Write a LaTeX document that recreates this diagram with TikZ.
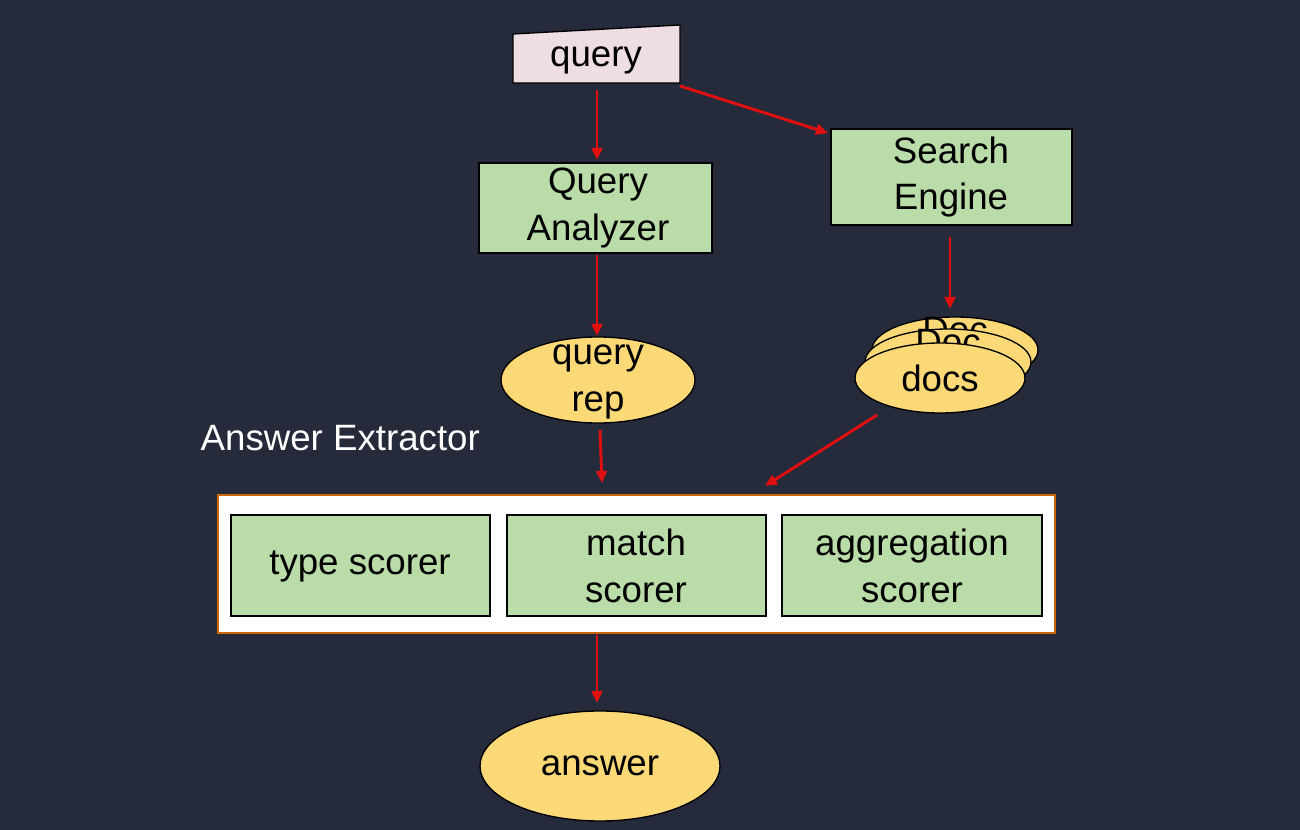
\documentclass[tikz,border=0pt]{standalone}
\usepackage{fontspec}
\setmainfont{Liberation Sans}
\usetikzlibrary{arrows.meta}
\definecolor{bg}{HTML}{252B3B}
\definecolor{gr}{HTML}{B9DCA8}
\definecolor{yl}{HTML}{FCD977}
\definecolor{pk}{HTML}{EEDDE3}
\definecolor{ar}{HTML}{E01010}
\begin{document}
\begin{tikzpicture}[x=0.75pt,y=-0.75pt,
  txt/.style={font=\fontsize{27.5}{35}\selectfont,align=center,text=black},
  box/.style={draw=black,line width=1pt,fill=gr},
  ell/.style={draw=black,line width=1pt,fill=yl},
  arr/.style={draw=ar,line width=2.2pt,-{Triangle[length=9pt,width=8pt]}}]
\fill[bg] (0,0) rectangle (1300,830);
\useasboundingbox (0,0) rectangle (1300,830);
% query
\draw[fill=pk,line width=1pt] (513,34) -- (680,25) -- (680,83) -- (513,83) -- cycle;
\node[txt] (q) at (596,60) {query};
\coordinate (qb) at (597,90);
\coordinate (qr) at (680,86);
% boxes
\draw[box] (479,163) rectangle (712,253);
\node[txt] (qa) at (598,208) {Query\\Analyzer};
\draw[box] (831,129) rectangle (1072,225);
\node[txt] (se) at (951,177) {Search\\Engine};
% query rep
\draw[ell] (598,380) ellipse [x radius=97,y radius=43];
\node[txt] (qrep) at (598,382) {query\\rep};
% docs stack
\draw[ell] (955,350) ellipse [x radius=83,y radius=33];
\node[txt] at (955,330) {Doc};
\draw[ell] (948,362) ellipse [x radius=83,y radius=33];
\node[txt] at (948,342) {Doc};
\draw[ell] (940,378) ellipse [x radius=85,y radius=35];
\node[txt] (docs) at (940,378) {docs};
% answer extractor
\node[font=\fontsize{27.5}{33}\selectfont,text=white,anchor=west] (ae) at (196,438) {Answer Extractor};
\draw[fill=white,draw=orange!80!black,line width=1pt] (218,495) rectangle (1055,633);
\draw[box] (231,515) rectangle (490,616);
\node[txt] (ts) at (360,566) {type scorer};
\draw[box] (507,515) rectangle (766,616);
\node[txt] (ms) at (636,566) {match\\scorer};
\draw[box] (782,515) rectangle (1042,616);
\node[txt] (as) at (912,566) {aggregation\\scorer};
% answer
\draw[ell] (600,766) ellipse [x radius=120,y radius=55];
\node[txt] (ans) at (600,766) {answer};
% arrows
\coordinate (a1) at (597,160);
\coordinate (a2) at (828,133);
\coordinate (b1) at (597,255); \coordinate (b2) at (597,336);
\coordinate (c1) at (950,237); \coordinate (c2) at (950,309);
\coordinate (d1) at (600,430); \coordinate (d2) at (602,483);
\coordinate (e1) at (877,415); \coordinate (e2) at (765,486);
\coordinate (f1) at (597,635); \coordinate (f2) at (597,703);
\draw[arr] (qb) -- (a1);
\draw[arr] (qr) -- (a2);
\draw[arr] (b1) -- (b2);
\draw[arr] (c1) -- (c2);
\draw[arr] (d1) -- (d2);
\draw[arr] (e1) -- (e2);
\draw[arr] (f1) -- (f2);
\end{tikzpicture}
\end{document}
